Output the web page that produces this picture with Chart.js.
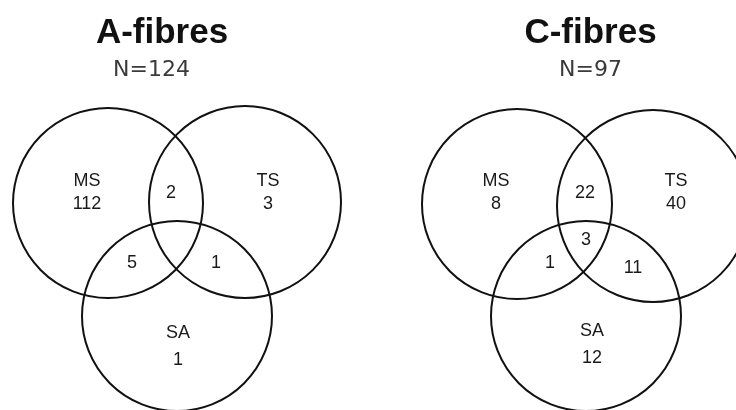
<!DOCTYPE html>
<html>
<head>
<meta charset="utf-8">
<script src="https://cdn.jsdelivr.net/npm/chart.js@4.4.0/dist/chart.umd.min.js"></script>
<style>
  html, body { margin: 0; padding: 0; background: #fff; }
  .wrap { display: flex; width: 736px; height: 410px; }
  .panel { position: relative; width: 368px; height: 410px; }
</style>
</head>
<body>
<div class="wrap">
  <div class="panel"><canvas id="aChart"></canvas></div>
  <div class="panel"><canvas id="cChart"></canvas></div>
</div>
<script>
// sets and regions of the Venn diagram
var setNames = ["MS", "TS", "SA"];
var regions = ["MS", "TS", "SA", "MS+TS", "MS+SA", "TS+SA", "MS+TS+SA"];

// counts per region (null = no label drawn)
var aFibreCounts = [112, 3, 1, 2, 5, 1, null];
var cFibreCounts = [8, 40, 12, 22, 1, 11, 3];

var panelTitles = ["A-fibres", "C-fibres"];
var panelTotals = [124, 97];

// layout of each panel, in panel pixels (x 0..368, y 83.4..410)
var aCircles = [ { x: 108, y: 203, r: 95 }, { x: 245, y: 202, r: 96 }, { x: 177, y: 316, r: 95 } ];
var cCircles = [ { x: 149, y: 204, r: 95 }, { x: 285, y: 206, r: 96 }, { x: 218, y: 316, r: 95 } ];
var aSpots = [ [87, 193], [268, 193], [178, 347], [171, 193], [132, 263], [216, 263], [177, 240] ];
var cSpots = [ [128, 193], [308, 193], [224, 345], [217, 193], [182, 263], [265, 268], [218, 240] ];
// left/right padding that centres the heading like the original
var headPad = [ { left: 0, right: 44 }, { left: 77, right: 0 } ];

var textColor = "#1a1a1a";

// draws the region labels through the chart scales
var vennLabels = {
  id: "vennLabels",
  afterDatasetsDraw(chart) {
    const ctx = chart.ctx;
    const xs = chart.scales.x, ys = chart.scales.y;
    const o = chart.options.plugins.vennLabels;
    ctx.save();
    ctx.fillStyle = textColor;
    ctx.font = "18px 'Liberation Sans', Arial, sans-serif";
    ctx.textAlign = "center";
    ctx.textBaseline = "middle";
    o.counts.forEach((v, i) => {
      if (v == null) return;
      const px = xs.getPixelForValue(o.spots[i][0]);
      const py = ys.getPixelForValue(o.spots[i][1]);
      if (i < setNames.length) {
        // single set: name above count
        const gap = i == 2 ? 27 : 23;
        ctx.fillText(setNames[i], px, py - gap / 2);
        ctx.fillText(String(v), px, py + gap / 2);
      } else {
        ctx.fillText(String(v), px, py);
      }
    });
    ctx.restore();
  },
};

function makeVenn(id, idx, circles, counts, spots) {
  const pad = headPad[idx];
  // A-fibres subtitle sits a little left of its title
  const sub = "N=" + panelTotals[idx] + (idx == 0 ? "\u00a0\u00a0\u00a0" : "");
  return new Chart(document.getElementById(id), {
    type: "bubble",
    data: {
      datasets: [
        {
          label: "sets",
          data: circles,
          backgroundColor: "rgba(0,0,0,0)",
          borderColor: "#111",
          borderWidth: 2,
          clip: false,
          // r is in axis units, convert to pixels via the x scale
          radius: (c) => {
            const raw = c.raw;
            const xs = c.chart.scales.x;
            if (!xs || !raw) return 0;
            return Math.abs(xs.getPixelForValue(raw.x + raw.r) - xs.getPixelForValue(raw.x));
          },
          hoverRadius: 0,
          hoverBorderWidth: 2,
        },
      ],
    },
    options: {
      responsive: false,
      animation: false,
      events: [],
      layout: { padding: { left: pad.left, right: pad.right, top: 0, bottom: 0 }, autoPadding: false },
      scales: {
        x: { type: "linear", min: pad.left, max: 368 - pad.right, display: false },
        y: { type: "linear", min: 83.4, max: 410, reverse: true, display: false },
      },
      plugins: {
        legend: { display: false },
        tooltip: { enabled: false },
        title: {
          display: true,
          text: panelTitles[idx],
          color: "#111",
          font: { family: "'Liberation Sans', Arial, sans-serif", size: 35, weight: "bold" },
          padding: { top: 12, bottom: 0 },
        },
        subtitle: {
          display: true,
          text: sub,
          color: "#3a3a3a",
          font: { family: "'DejaVu Sans', sans-serif", size: 22, weight: "normal" },
          padding: { top: 3, bottom: 0 },
        },
        vennLabels: { counts: counts, spots: spots },
      },
    },
    plugins: [vennLabels],
  });
}

// set explicit canvas sizes
["aChart", "cChart"].forEach((id) => {
  const cv = document.getElementById(id);
  cv.width = 368;
  cv.height = 410;
  cv.style.width = "368px";
  cv.style.height = "410px";
});

makeVenn("aChart", 0, aCircles, aFibreCounts, aSpots);
makeVenn("cChart", 1, cCircles, cFibreCounts, cSpots);
</script>
</body>
</html>
